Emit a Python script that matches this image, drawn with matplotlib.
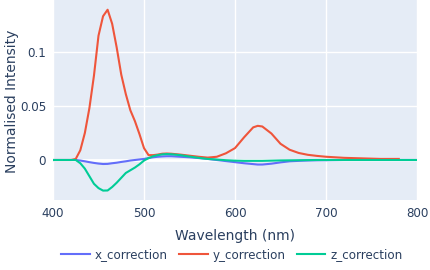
import numpy as np
import matplotlib
matplotlib.use("Agg")
from matplotlib import pyplot as plt

# wavelengths (nm) and the three correction curves
wavelength = [400, 405, 410, 415, 420, 425, 430, 435, 440, 445,
              450, 455, 460, 465, 470, 475, 480, 485, 490, 495,
              500, 505, 510, 515, 520, 525, 530, 540, 550, 560,
              570, 580, 590, 600, 610, 620, 625, 630, 640, 650,
              660, 670, 680, 690, 700, 720, 740, 760, 780, 800]

x_correction = [0, 0, 0, 0, 0, 0, -0.0005, -0.0012, -0.002, -0.0027,
                -0.0033, -0.0037, -0.0036, -0.003, -0.0025, -0.0018, -0.0012, -0.0005, 0, 0.0005,
                0.001, 0.0018, 0.0025, 0.003, 0.0033, 0.0035, 0.0035, 0.003, 0.0025, 0.0018,
                0.001, 0, -0.001, -0.002, -0.003, -0.0038, -0.0042, -0.0042, -0.0034, -0.0022,
                -0.0012, -0.0008, -0.0005, -0.0003, -0.0002, 0, 0, 0, 0, 0]

y_correction = [0, 0, 0, 0, 0, 0.001, 0.009, 0.025, 0.048, 0.078,
                0.115, 0.133, 0.139, 0.126, 0.104, 0.079, 0.061, 0.046, 0.036, 0.024,
                0.011, 0.0045, 0.0045, 0.005, 0.0058, 0.006, 0.0058, 0.005, 0.004, 0.003,
                0.0022, 0.003, 0.0062, 0.011, 0.021, 0.0302, 0.0316, 0.031, 0.0245, 0.015,
                0.0095, 0.0065, 0.0048, 0.0038, 0.003, 0.002, 0.0015, 0.001, 0.001, np.nan]

z_correction = [0, 0, 0, 0, 0, 0, -0.003, -0.008, -0.015, -0.022,
                -0.026, -0.0283, -0.0282, -0.025, -0.021, -0.0165, -0.012, -0.0095, -0.007, -0.004,
                -0.0005, 0.0017, 0.0035, 0.0045, 0.0052, 0.0055, 0.0053, 0.0045, 0.0032, 0.002,
                0.001, 0.0004, -0.0002, -0.0006, -0.0008, -0.0008, -0.0008, -0.0008, -0.0006, -0.0004,
                -0.0003, -0.0002, -0.0001, 0, 0, 0, 0, 0, 0, 0]

series = [("x_correction", x_correction, "#636efa"),
          ("y_correction", y_correction, "#EF553B"),
          ("z_correction", z_correction, "#00cc96")]

plt.rcParams['font.family'] = ['DejaVu Sans']
txt = "#2a3f5f"

W, H = 430, 270
fig = plt.figure(figsize=(W / 100, H / 100), dpi=100)
ax = fig.add_axes([53 / W, 70 / H, 364 / W, 200 / H])
ax.set_facecolor("#E5ECF6")

for name, vals, col in series:
    ax.plot(wavelength, vals, color=col, lw=1.5, label=name, solid_joinstyle="round")

ax.set_xlim(400, 800)
ax.set_ylim(-0.037, 0.148)
ax.set_xticks([400, 500, 600, 700, 800])
ax.set_yticks([0, 0.05, 0.1])
ax.set_yticklabels(["0", "0.05", "0.1"])
ax.grid(True, color="white", lw=1)
ax.set_axisbelow(True)
ax.axhline(0, color="white", lw=2, zorder=0.9)
for s in ax.spines.values():
    s.set_visible(False)
ax.tick_params(length=0, labelsize=8.6, colors=txt, pad=5)

fig.text(235 / W, 1 - 236 / H, "Wavelength (nm)", ha="center", va="center",
         fontsize=10, color=txt)
fig.text(12 / W, 1 - 101 / H, "Normalised Intensity", ha="center", va="center",
         rotation=90, fontsize=10, color=txt)

fig.legend(loc="center", bbox_to_anchor=(232 / W, 1 - 255 / H), ncol=3, frameon=False,
           fontsize=8.6, labelcolor=txt, handlelength=2.4, handletextpad=0.45,
           columnspacing=0.9, borderaxespad=0)

fig.savefig("out.png", dpi=100)
